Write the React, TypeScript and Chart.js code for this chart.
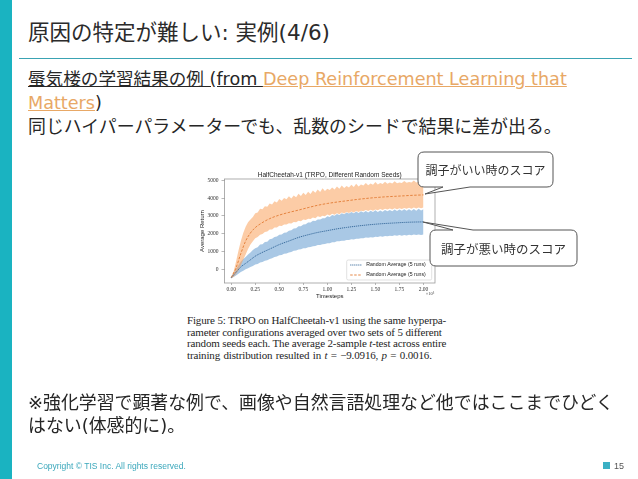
import React, { useEffect, useRef } from 'react';
import { Chart, registerables } from 'chart.js';

Chart.register(...registerables);

// ---------- data ----------
const CHART_TITLE = 'HalfCheetah-v1 (TRPO, Different Random Seeds)';
const X_TITLE = 'Timesteps';
const Y_TITLE = 'Average Return';
const X_EXPONENT = '×10⁶';
const LEGEND_LABEL = 'Random Average (5 runs)';

const TIMESTEPS = [
  0, 0.025, 0.05, 0.075, 0.1, 0.125, 0.15, 0.175, 0.2, 0.225,
  0.25, 0.275, 0.3, 0.325, 0.35, 0.375, 0.4, 0.425, 0.45, 0.475,
  0.5, 0.525, 0.55, 0.575, 0.6, 0.625, 0.65, 0.675, 0.7, 0.725,
  0.75, 0.775, 0.8, 0.825, 0.85, 0.875, 0.9, 0.925, 0.95, 0.975,
  1, 1.025, 1.05, 1.075, 1.1, 1.125, 1.15, 1.175, 1.2, 1.225,
  1.25, 1.275, 1.3, 1.325, 1.35, 1.375, 1.4, 1.425, 1.45, 1.475,
  1.5, 1.525, 1.55, 1.575, 1.6, 1.625, 1.65, 1.675, 1.7, 1.725,
  1.75, 1.775, 1.8, 1.825, 1.85, 1.875, 1.9, 1.925, 1.95, 1.975,
  2,
];

const ORANGE_UPPER = [
  -400, -100, 450, 1050, 1600, 2050, 2400, 2650, 2800, 2950,
  3150, 3200, 3400, 3380, 3550, 3520, 3700, 3640, 3820, 3750,
  3950, 3850, 4000, 3930, 4100, 3980, 4150, 4050, 4250, 4120,
  4300, 4180, 4350, 4230, 4420, 4300, 4480, 4340, 4550, 4400,
  4520, 4460, 4600, 4480, 4650, 4530, 4700, 4560, 4680, 4600,
  4750, 4620, 4800, 4650, 4760, 4700, 4850, 4720, 4820, 4750,
  4900, 4760, 4850, 4790, 4920, 4800, 4870, 4820, 4950, 4830,
  4880, 4850, 4960, 4860, 4900, 4870, 4980, 4880, 4920, 4890,
  4950,
];

const ORANGE_LOWER = [
  -500, -400, -250, -50, 250, 550, 850, 1150, 1400, 1580,
  1750, 1830, 1950, 1990, 2100, 2130, 2250, 2240, 2350, 2360,
  2450, 2440, 2530, 2520, 2600, 2580, 2660, 2650, 2730, 2700,
  2800, 2770, 2850, 2830, 2920, 2880, 2980, 2940, 3020, 2990,
  3080, 3030, 3120, 3070, 3160, 3100, 3190, 3140, 3220, 3170,
  3250, 3200, 3280, 3230, 3300, 3260, 3330, 3280, 3350, 3300,
  3370, 3320, 3390, 3340, 3400, 3360, 3420, 3370, 3430, 3380,
  3440, 3390, 3450, 3400, 3460, 3410, 3470, 3420, 3470, 3430,
  3480,
];

const BLUE_UPPER = [
  -400, -200, 50, 250, 450, 600, 700, 850, 950, 1100,
  1200, 1250, 1400, 1420, 1550, 1560, 1700, 1720, 1820, 1850,
  1950, 1960, 2060, 2080, 2180, 2200, 2300, 2320, 2420, 2430,
  2530, 2540, 2640, 2640, 2730, 2720, 2810, 2800, 2880, 2870,
  2980, 2950, 3050, 3010, 3110, 3060, 3150, 3100, 3200, 3140,
  3230, 3150, 3250, 3170, 3260, 3190, 3280, 3200, 3300, 3230,
  3320, 3220, 3310, 3240, 3330, 3260, 3340, 3270, 3360, 3280,
  3370, 3290, 3380, 3300, 3380, 3300, 3390, 3300, 3400, 3310,
  3380,
];

const BLUE_LOWER = [
  -500, -420, -330, -230, -130, -60, 20, 80, 150, 200,
  280, 320, 400, 430, 500, 530, 600, 630, 700, 730,
  800, 820, 880, 900, 960, 990, 1050, 1070, 1130, 1140,
  1190, 1200, 1250, 1260, 1310, 1320, 1370, 1380, 1420, 1430,
  1480, 1480, 1530, 1530, 1580, 1580, 1620, 1620, 1660, 1660,
  1700, 1690, 1730, 1720, 1760, 1750, 1790, 1780, 1810, 1800,
  1840, 1820, 1860, 1840, 1880, 1860, 1900, 1880, 1920, 1890,
  1930, 1900, 1940, 1910, 1950, 1920, 1960, 1930, 1960, 1940,
  1960,
];

const MEAN_STEPS = [0, 0.05, 0.1, 0.15, 0.2, 0.25, 0.3, 0.4, 0.5, 0.6, 0.7, 0.8, 0.9, 1.0, 1.1, 1.2, 1.3, 1.4, 1.5, 1.6, 1.7, 1.8, 1.9, 2.0];
const ORANGE_MEAN = [-450, 100, 900, 1600, 2050, 2350, 2550, 2850, 3050, 3200, 3330, 3470, 3600, 3700, 3780, 3850, 3920, 3980, 4030, 4070, 4100, 4130, 4160, 4180];
const BLUE_MEAN = [-450, -150, 150, 350, 550, 750, 900, 1150, 1400, 1600, 1800, 1950, 2080, 2180, 2280, 2360, 2430, 2490, 2540, 2580, 2610, 2640, 2660, 2670];

const X_TICKS = [0, 0.25, 0.5, 0.75, 1, 1.25, 1.5, 1.75, 2];
const Y_TICKS = [0, 1000, 2000, 3000, 4000, 5000];

// ---------- styles ----------
const ORANGE_FILL = 'rgba(250,160,90,0.54)';
const BLUE_FILL = 'rgba(90,150,205,0.52)';
const ORANGE_LINE = '#e27a33';
const BLUE_LINE = '#2f6396';

const pts = (xs: number[], ys: number[]) => xs.map((x, i) => ({ x, y: ys[i] }));

const overlayPlugin = {
  id: 'overlay',
  afterDatasetsDraw(chart: any) {
    const { ctx, chartArea: a } = chart;
    ctx.save();
    ctx.strokeStyle = '#9b9b9b';
    ctx.lineWidth = 0.8;
    ctx.strokeRect(a.left, a.top, a.right - a.left, a.bottom - a.top);
    ctx.fillStyle = '#222';
    ctx.font = '6.5px "Liberation Sans"';
    ctx.textAlign = 'center';
    ctx.textBaseline = 'middle';
    ctx.fillText(CHART_TITLE, (a.left + a.right) / 2, a.top - 4);
    ctx.font = '4.5px "Liberation Serif"';
    ctx.fillStyle = '#444';
    ctx.fillText(X_EXPONENT, a.right - 5, a.bottom + 11);
    const entries = chart.data.datasets.filter((d: any) => d.inLegend);
    const w = 85, h = 20;
    const lx = a.right - 3.3 - w;
    const ly = a.bottom - 3 - h;
    ctx.fillStyle = 'rgba(255,255,255,0.9)';
    ctx.strokeStyle = '#cfcfcf';
    ctx.lineWidth = 0.6;
    ctx.beginPath();
    ctx.roundRect(lx, ly, w, h, 1.5);
    ctx.fill();
    ctx.stroke();
    entries.forEach((d: any, i: number) => {
      const y = ly + 5 + i * 10;
      ctx.strokeStyle = d.borderColor;
      ctx.lineWidth = 0.9;
      ctx.setLineDash(d.borderDash || []);
      ctx.beginPath();
      ctx.moveTo(lx + 3.5, y);
      ctx.lineTo(lx + 15.5, y);
      ctx.stroke();
      ctx.setLineDash([]);
      ctx.fillStyle = '#222';
      ctx.font = '5.2px "Liberation Sans"';
      ctx.textAlign = 'left';
      ctx.textBaseline = 'middle';
      ctx.fillText(d.label, lx + 19.5, y);
    });
    ctx.restore();
  },
};

function ReturnChart() {
  const ref = useRef<HTMLCanvasElement>(null);
  useEffect(() => {
    const chart = new Chart(ref.current!, {
      type: 'line',
      data: {
        datasets: [
          { label: LEGEND_LABEL, inLegend: true, data: pts(MEAN_STEPS, BLUE_MEAN), borderColor: BLUE_LINE, borderWidth: 0.9, borderDash: [1.2, 0.8], pointRadius: 0, fill: false, cubicInterpolationMode: 'monotone', order: 0 } as any,
          { label: LEGEND_LABEL, inLegend: true, data: pts(MEAN_STEPS, ORANGE_MEAN), borderColor: ORANGE_LINE, borderWidth: 0.9, borderDash: [2.5, 1.5], pointRadius: 0, fill: false, cubicInterpolationMode: 'monotone', order: 0 } as any,
          { label: 'orange upper', data: pts(TIMESTEPS, ORANGE_UPPER), borderWidth: 0, pointRadius: 0, fill: false, order: 1 },
          { label: 'orange lower', data: pts(TIMESTEPS, ORANGE_LOWER), borderWidth: 0, pointRadius: 0, fill: '-1', backgroundColor: ORANGE_FILL, order: 1 },
          { label: 'blue upper', data: pts(TIMESTEPS, BLUE_UPPER), borderWidth: 0, pointRadius: 0, fill: false, order: 2 },
          { label: 'blue lower', data: pts(TIMESTEPS, BLUE_LOWER), borderWidth: 0, pointRadius: 0, fill: '-1', backgroundColor: BLUE_FILL, order: 2 },
        ],
      },
      options: {
        animation: false,
        responsive: true,
        maintainAspectRatio: false,
        layout: { padding: { left: 0, right: 15, top: 16, bottom: 0 } },
        plugins: { legend: { display: false }, tooltip: { enabled: false }, title: { display: false } },
        scales: {
          x: {
            type: 'linear',
            min: -0.07,
            max: 2.12,
            afterBuildTicks: (s: any) => { s.ticks = X_TICKS.map((v) => ({ value: v })); },
            afterFit: (s: any) => { s.height = 22; },
            ticks: { font: { family: 'Liberation Serif', size: 5.5 }, color: '#333', padding: 1, maxRotation: 0, autoSkip: false, callback: (v: any) => Number(v).toFixed(2) },
            grid: { display: true, drawOnChartArea: false, drawTicks: true, tickLength: 2, color: '#888', lineWidth: 0.6 },
            border: { display: false },
            title: { display: true, text: X_TITLE, font: { family: 'Liberation Sans', size: 6 }, color: '#222', padding: { top: 0, bottom: 5 } },
          },
          y: {
            type: 'linear',
            min: -750,
            max: 5070,
            afterBuildTicks: (s: any) => { s.ticks = Y_TICKS.map((v) => ({ value: v })); },
            afterFit: (s: any) => { s.width = 34.5; },
            ticks: { font: { family: 'Liberation Serif', size: 5.5 }, color: '#333', padding: 3, callback: (v: any) => String(v) },
            grid: { display: true, drawOnChartArea: false, drawTicks: true, tickLength: 3, color: '#888', lineWidth: 0.6 },
            border: { display: false },
            title: { display: true, text: Y_TITLE, font: { family: 'Liberation Sans', size: 6 }, color: '#222', padding: { top: 9, bottom: 0 } },
          },
        },
      },
      plugins: [overlayPlugin],
    });
    return () => chart.destroy();
  }, []);
  return (
    <div style={{ position: 'absolute', left: 190, top: 163, width: 260, height: 142 }}>
      <canvas ref={ref} />
    </div>
  );
}

const JP = '"DejaVu Sans", "Noto Sans CJK JP", sans-serif';
const TEAL = '#1ab3c1';
const JUSTIFIED: React.CSSProperties = { textAlign: 'justify', textAlignLast: 'justify', whiteSpace: 'nowrap' };

export default function App() {
  return (
    <div style={{ position: 'fixed', left: 0, top: 0, width: 638, height: 479, background: '#fff', overflow: 'hidden', fontFamily: JP, color: '#262626' }}>
      <div style={{ position: 'absolute', left: 0, top: 0, width: 12, height: 479, background: TEAL }} />
      <div style={{ position: 'absolute', left: 28, top: 21, fontSize: 21.5, lineHeight: '24px', whiteSpace: 'nowrap', color: '#2b2b2b' }}>
        原因の特定が難しい: 実例(4/6)
      </div>
      <div style={{ position: 'absolute', left: 19, top: 58, width: 613, height: 1, background: '#3aa3b3' }} />
      <div style={{ position: 'absolute', left: 28, top: 68, fontSize: 17.6, lineHeight: '23.5px', whiteSpace: 'nowrap' }}>
        <span style={{ textDecoration: 'underline' }}>蜃気楼の学習結果の例 (from </span>
        <span style={{ color: '#e8a866', textDecoration: 'underline' }}>Deep Reinforcement Learning that</span>
        <br />
        <span style={{ color: '#e8a866', textDecoration: 'underline' }}>Matters</span>
        <span>)</span>
        <br />
        <span style={{ fontSize: 17.9 }}>同じハイパーパラメーターでも、乱数のシードで結果に差が出る。</span>
      </div>

      <ReturnChart />

      <div style={{ position: 'absolute', left: 187, top: 315, width: 252, fontFamily: '"Liberation Serif", serif', fontSize: 11, letterSpacing: '-0.15px', lineHeight: '11.6px', color: '#1e1e1e' }}>
        <div style={JUSTIFIED}>Figure 5: TRPO on HalfCheetah-v1 using the same hyperpa-</div>
        <div style={JUSTIFIED}>rameter configurations averaged over two sets of 5 different</div>
        <div style={JUSTIFIED}>random seeds each. The average 2-sample <i>t</i>-test across entire</div>
        <div style={{ whiteSpace: 'nowrap', wordSpacing: '0.8px' }}>training distribution resulted in <i>t</i> = −9.0916, <i>p</i> = 0.0016.</div>
      </div>

      <svg width={638} height={479} style={{ position: 'absolute', left: 0, top: 0, pointerEvents: 'none' }}>
        <path d="M 424 152 H 547 Q 553 152 553 158 V 181 Q 553 187 547 187 H 470 L 425 194 L 443 187 H 424 Q 418 187 418 181 V 158 Q 418 152 424 152 Z" fill="#fff" stroke="#555" strokeWidth={1} />
        <path d="M 436 230 H 453 L 423 222 L 473 230 H 571 Q 577 230 577 236 V 260 Q 577 266 571 266 H 436 Q 430 266 430 260 V 236 Q 430 230 436 230 Z" fill="#fff" stroke="#555" strokeWidth={1} />
      </svg>
      <div style={{ position: 'absolute', left: 418, top: 152, width: 135, height: 35, display: 'flex', alignItems: 'center', justifyContent: 'center', fontSize: 12, fontFamily: '"Noto Sans CJK JP", sans-serif', color: '#333' }}>
        調子がいい時のスコア
      </div>
      <div style={{ position: 'absolute', left: 430, top: 230, width: 147, height: 36, display: 'flex', alignItems: 'center', justifyContent: 'center', fontSize: 12.5, fontFamily: '"Noto Sans CJK JP", sans-serif', color: '#333' }}>
        調子が悪い時のスコア
      </div>

      <div style={{ position: 'absolute', left: 28, top: 392, fontSize: 17.9, lineHeight: '22.5px', whiteSpace: 'nowrap' }}>
        ※強化学習で顕著な例で、画像や自然言語処理など他ではここまでひどく
        <br />
        はない(体感的に)。
      </div>

      <div style={{ position: 'absolute', left: 37, top: 460, fontFamily: '"Liberation Sans", sans-serif', fontSize: 8.5, lineHeight: '12px', color: '#3aa7bb', whiteSpace: 'nowrap' }}>
        Copyright © TIS Inc. All rights reserved.
      </div>
      <div style={{ position: 'absolute', left: 603, top: 462, width: 7, height: 7, background: '#3bb0c4' }} />
      <div style={{ position: 'absolute', left: 614, top: 460, fontFamily: '"Liberation Sans", sans-serif', fontSize: 9, lineHeight: '12px', color: '#555' }}>
        15
      </div>
    </div>
  );
}
